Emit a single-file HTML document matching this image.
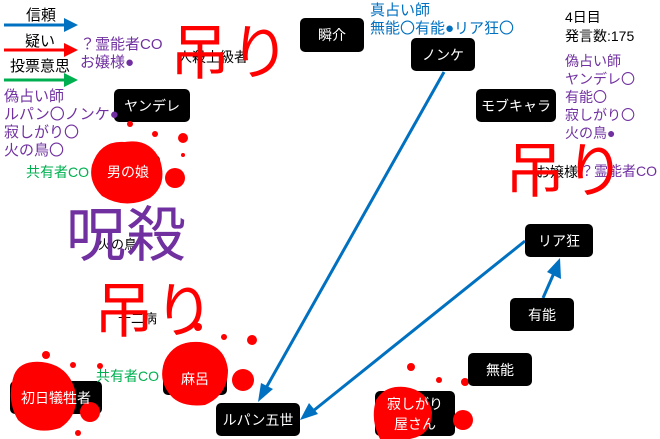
<!DOCTYPE html>
<html><head><meta charset="utf-8"><style>
body{margin:0;width:660px;height:439px;background:#fff;position:relative;overflow:hidden;font-family:"Liberation Sans","Noto Sans CJK JP",sans-serif}
.n{position:absolute;background:#000;color:#fff;border-radius:5px;display:flex;align-items:center;justify-content:center;font-size:14px;text-align:center;line-height:20px}
.o{background:transparent;z-index:3}
.t{position:absolute;white-space:nowrap;z-index:3}
.p{color:#7030a0;font-size:14px;line-height:18px}
.b{color:#0070c0;font-size:14px;line-height:18px}
.big{position:absolute;font-size:60px;line-height:60px;white-space:nowrap;z-index:4}
svg{position:absolute;left:0;top:0;z-index:2}
</style></head><body>
<div class="n" style="left:96px;top:155px;width:64px;height:33px"></div>
<div class="n" style="left:163px;top:362px;width:64px;height:33px"></div>
<div class="n" style="left:10px;top:381px;width:92px;height:33px"></div>
<div class="n" style="left:375px;top:391px;width:80px;height:45px"></div>
<svg width="660" height="439">
<g fill="#f00">
<path d="M92,165 Q100,140 125,142 Q150,138 160,160 Q168,185 150,198 Q125,210 102,196 Q88,182 92,165z"/>
<circle cx="175" cy="178" r="10"/><circle cx="183" cy="138" r="5"/><circle cx="130" cy="124" r="3"/><circle cx="155" cy="134" r="3"/><circle cx="183" cy="155" r="2"/>
<path d="M165,360 Q175,340 200,342 Q225,345 228,370 Q228,395 205,405 Q178,408 168,392 Q158,378 165,360z"/>
<circle cx="243" cy="380" r="11"/><circle cx="252" cy="340" r="5"/><circle cx="224" cy="337" r="3"/><circle cx="198" cy="327" r="4"/><circle cx="100" cy="366" r="3"/>
<path d="M14,375 Q20,360 42,362 Q68,365 75,390 Q80,415 60,428 Q35,436 18,420 Q6,400 14,375z"/>
<circle cx="90" cy="412" r="10"/><circle cx="46" cy="355" r="4"/><circle cx="73" cy="365" r="3"/><circle cx="78" cy="433" r="3"/>
<path d="M376,400 Q385,385 405,387 Q428,390 432,412 Q432,435 410,439 L380,439 Q370,420 376,400z"/>
<circle cx="463" cy="420" r="10"/><circle cx="411" cy="367" r="4"/><circle cx="439" cy="380" r="3"/><circle cx="465" cy="382" r="4"/>
</g>
<g stroke-width="3" fill="none">
<line x1="4" y1="25" x2="68" y2="25" stroke="#0070c0"/><path d="M64,18L78,25L64,32z" fill="#0070c0"/>
<line x1="4" y1="50" x2="68" y2="50" stroke="#f00"/><path d="M64,43L78,50L64,57z" fill="#f00"/>
<line x1="4" y1="80" x2="68" y2="80" stroke="#00b050"/><path d="M64,73L78,80L64,87z" fill="#00b050"/>
</g>
<g stroke="#0070c0" stroke-width="3">
<line x1="444" y1="72" x2="266" y2="388"/><path d="M258,402L261,383L273,389z" fill="#0070c0" stroke="none"/>
<line x1="525" y1="241" x2="313" y2="411"/><path d="M300,420L309,403L318,414z" fill="#0070c0" stroke="none"/>
<line x1="543" y1="298" x2="554" y2="273"/><path d="M560,258L561,279L547,272z" fill="#0070c0" stroke="none"/>
</g>
</svg>
<div class="n" style="left:300px;top:18px;width:64px;height:34px">瞬介</div>
<div class="n" style="left:411px;top:38px;width:64px;height:33px">ノンケ</div>
<div class="n" style="left:114px;top:89px;width:76px;height:33px">ヤンデレ</div>
<div class="n" style="left:476px;top:89px;width:80px;height:33px">モブキャラ</div>
<div class="n o" style="left:96px;top:155px;width:64px;height:33px">男の娘</div>
<div class="n o" style="left:163px;top:362px;width:64px;height:33px">麻呂</div>
<div class="n o" style="left:10px;top:381px;width:92px;height:33px">初日犠牲者</div>
<div class="n" style="left:216px;top:403px;width:84px;height:33px;z-index:3">ルパン五世</div>
<div class="n o" style="left:375px;top:391px;width:80px;height:45px">寂しがり<br>屋さん</div>
<div class="n" style="left:468px;top:353px;width:64px;height:33px;z-index:3">無能</div>
<div class="n" style="left:510px;top:298px;width:64px;height:33px;z-index:3">有能</div>
<div class="n" style="left:525px;top:224px;width:68px;height:33px;z-index:3">リア狂</div>
<div class="t" style="left:26px;top:4px;font-size:15px">信頼</div>
<div class="t" style="left:25px;top:30px;font-size:15px">疑い</div>
<div class="t" style="left:10px;top:55px;font-size:15px">投票意思</div>
<div class="t p" style="left:80px;top:36px;font-size:15px">？霊能者CO<br>お嬢様●</div>
<div class="t p" style="left:4px;top:88px;font-size:15px">偽占い師<br>ルパン〇ノンケ●<br>寂しがり〇<br>火の鳥〇</div>
<div class="t" style="left:26px;top:162px;color:#00b050;font-size:14px">共有者CO</div>
<div class="t" style="left:96px;top:366px;color:#00b050;font-size:14px">共有者CO</div>
<div class="t" style="left:178px;top:47px;font-size:14px">人殺上級者</div>
<div class="t" style="left:98px;top:234px;font-size:13px">火の鳥</div>
<div class="t" style="left:118px;top:308px;font-size:13px">十二病</div>
<div class="t" style="left:536px;top:162px;font-size:14px">お嬢様</div>
<div class="t p" style="left:580px;top:162px;font-size:14px">？霊能者CO</div>
<div class="t b" style="left:370px;top:2px;font-size:15px">真占い師<br>無能〇有能●リア狂〇</div>
<div class="t" style="left:565px;top:8px;font-size:14px;line-height:19px">4日目<br>発言数:175</div>
<div class="t p" style="left:565px;top:52px;font-size:14px">偽占い師<br>ヤンデレ〇<br>有能〇<br>寂しがり〇<br>火の鳥●</div>
<div class="big" style="left:170px;top:24px;color:#f00">吊り</div>
<div class="big" style="left:66px;top:206px;color:#7030a0">呪殺</div>
<div class="big" style="left:94px;top:282px;color:#f00">吊り</div>
<div class="big" style="left:505px;top:142px;color:#f00">吊り</div>
</body></html>
